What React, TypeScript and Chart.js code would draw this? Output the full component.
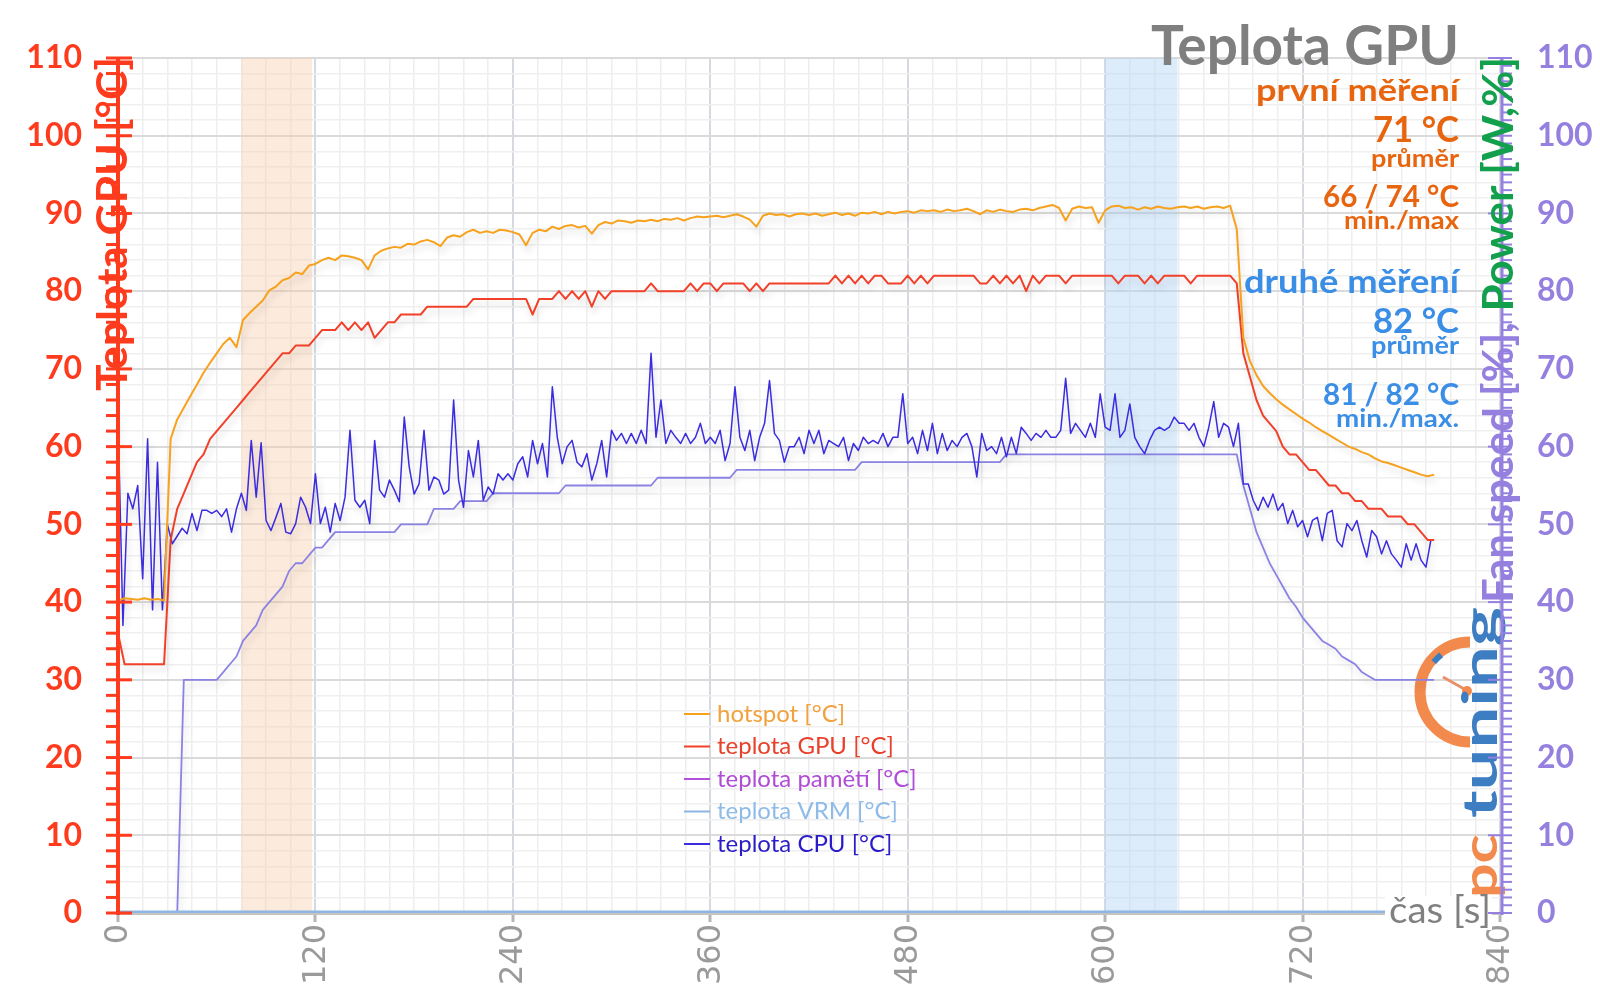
import React, { useEffect, useRef } from 'react';
import { Chart, registerables } from 'chart.js';

Chart.register(...registerables);

// ---------- data ----------
const X_MAX = 840;
const X_LABEL_STEP = 120;
const X_GRID_STEP = 15;
const Y_MAX = 110;
const Y_LABEL_STEP = 10;
const Y_GRID_STEP = 2;

const STEP_MAIN = 4; // seconds between samples (hotspot, GPU, fan)
const STEP_CPU = 3; // seconds between CPU samples

const hotspot = [
  40.2, 40.5, 40.4, 40.3, 40.5, 40.3, 40.4, 40.2, 61.0, 63.5,
  65.0, 66.5, 68.0, 69.5, 70.8, 72.0, 73.2, 74.0, 72.8, 76.3,
  77.2, 78.0, 78.8, 80.1, 80.6, 81.4, 81.7, 82.4, 82.2, 83.3,
  83.5, 84.0, 84.3, 84.0, 84.6, 84.5, 84.3, 84.0, 82.8, 84.6,
  85.2, 85.5, 85.7, 85.6, 86.1, 86.0, 86.4, 86.6, 86.3, 85.8,
  86.9, 87.2, 87.0, 87.6, 87.9, 87.5, 87.7, 87.5, 87.9, 87.8,
  87.6, 87.3, 85.9, 87.5, 87.9, 87.7, 88.3, 88.0, 88.4, 88.5,
  88.2, 88.4, 87.4, 88.5, 88.9, 88.7, 89.1, 89.0, 88.8, 89.1,
  89.0, 89.2, 89.0, 89.3, 89.2, 89.4, 89.1, 89.4, 89.6, 89.5,
  89.6, 89.7, 89.5, 89.7, 89.9, 89.6, 89.2, 88.3, 89.7, 90.0,
  89.8, 89.9, 89.6, 89.9, 90.0, 89.8, 90.0, 89.7, 89.9, 90.1,
  89.8, 90.0, 89.7, 90.1, 90.0, 90.2, 89.9, 90.2, 90.0, 90.2,
  90.3, 90.1, 90.4, 90.3, 90.4, 90.2, 90.5, 90.3, 90.4, 90.6,
  90.3, 89.9, 90.4, 90.2, 90.5, 90.3, 90.2, 90.5, 90.6, 90.4,
  90.7, 90.9, 91.1, 90.7, 89.1, 90.6, 90.9, 90.7, 90.8, 88.8,
  90.4, 90.9, 91.0, 90.7, 90.8, 90.5, 90.8, 90.6, 90.9, 90.7,
  90.6, 90.8, 90.9, 90.7, 90.9, 90.6, 90.8, 90.9, 90.7, 91.0,
  88.0, 74.0, 71.0, 69.2, 67.8, 66.9, 66.1, 65.4, 64.8, 64.2,
  63.6, 63.1, 62.5, 62.0, 61.5, 61.0, 60.5, 60.0, 59.7, 59.3,
  59.0, 58.5, 58.1, 57.9, 57.6, 57.3, 57.0, 56.7, 56.4, 56.2,
  56.4,
];

const gpuTemp = [
  36, 32, 32, 32, 32, 32, 32, 32, 48, 52,
  54, 56, 58, 59, 61, 62, 63, 64, 65, 66,
  67, 68, 69, 70, 71, 72, 72, 73, 73, 73,
  74, 75, 75, 75, 76, 75, 76, 75, 76, 74,
  75, 76, 76, 77, 77, 77, 77, 78, 78, 78,
  78, 78, 78, 78, 79, 79, 79, 79, 79, 79,
  79, 79, 79, 77, 79, 79, 79, 80, 79, 80,
  79, 80, 78, 80, 79, 80, 80, 80, 80, 80,
  80, 81, 80, 80, 80, 80, 80, 81, 80, 81,
  81, 80, 81, 81, 81, 81, 80, 81, 80, 81,
  81, 81, 81, 81, 81, 81, 81, 81, 81, 82,
  81, 82, 81, 82, 81, 82, 82, 81, 81, 81,
  82, 81, 82, 81, 82, 82, 82, 82, 82, 82,
  82, 81, 81, 82, 81, 82, 81, 82, 80, 82,
  81, 82, 82, 82, 81, 82, 82, 82, 82, 82,
  82, 82, 81, 82, 82, 82, 81, 82, 81, 82,
  82, 82, 82, 81, 82, 82, 82, 82, 82, 82,
  81, 72, 69, 66, 64, 63, 62, 60, 59, 59,
  58, 57, 57, 56, 55, 55, 54, 54, 53, 53,
  52, 52, 52, 51, 51, 51, 50, 50, 49, 48,
  48,
];

const fanSpeed = [
  0, 0, 0, 0, 0, 0, 0, 0, 0, 0,
  30, 30, 30, 30, 30, 30, 31, 32, 33, 35,
  36, 37, 39, 40, 41, 42, 44, 45, 45, 46,
  47, 47, 48, 49, 49, 49, 49, 49, 49, 49,
  49, 49, 49, 50, 50, 50, 50, 50, 52, 52,
  52, 52, 53, 53, 53, 53, 53, 54, 54, 54,
  54, 54, 54, 54, 54, 54, 54, 54, 55, 55,
  55, 55, 55, 55, 55, 55, 55, 55, 55, 55,
  55, 55, 56, 56, 56, 56, 56, 56, 56, 56,
  56, 56, 56, 56, 57, 57, 57, 57, 57, 57,
  57, 57, 57, 57, 57, 57, 57, 57, 57, 57,
  57, 57, 57, 58, 58, 58, 58, 58, 58, 58,
  58, 58, 58, 58, 58, 58, 58, 58, 58, 58,
  58, 58, 58, 58, 58, 59, 59, 59, 59, 59,
  59, 59, 59, 59, 59, 59, 59, 59, 59, 59,
  59, 59, 59, 59, 59, 59, 59, 59, 59, 59,
  59, 59, 59, 59, 59, 59, 59, 59, 59, 59,
  59, 55, 52, 49, 47, 45, 43.5, 42, 40.5, 39.4,
  38, 37, 36, 35, 34.5, 34, 33, 32.5, 32, 31,
  30.5, 30, 30, 30, 30, 30, 30, 30, 30, 30,
  30,
];

const cpuTemp = [
  64, 37, 54, 52, 55, 43, 61, 39, 58, 39,
  50, 47.5, 48.5, 49.5, 48.8, 51.4, 49.2, 51.8, 51.8, 51.4,
  51.8, 51.0, 52.0, 49.0, 52.0, 54.0, 51.8, 60.8, 53.5, 60.5,
  50.5, 49.2, 50.9, 52.7, 49.0, 48.8, 50.1, 53.5, 52.2, 50.1,
  56.5, 50.1, 52.2, 49.0, 52.7, 50.5, 53.5, 62.1, 53.1, 52.2,
  53.1, 50.1, 60.8, 54.4, 53.5, 55.7, 54.4, 52.9, 63.8, 57.4,
  53.9, 55.2, 62.1, 54.4, 56.1, 55.7, 53.9, 54.4, 66.0, 55.7,
  52.2, 59.5, 56.1, 60.8, 53.1, 54.8, 53.9, 56.5, 55.7, 56.5,
  55.7, 57.8, 58.7, 56.1, 60.8, 57.8, 60.4, 56.1, 67.7, 61.2,
  57.8, 60.0, 60.8, 58.0, 57.4, 59.1, 55.7, 57.8, 60.8, 56.1,
  62.1, 60.8, 61.7, 60.4, 61.7, 60.4, 62.1, 60.4, 72.0, 61.2,
  66.0, 60.4, 62.1, 61.2, 60.4, 61.7, 60.4, 61.2, 63.0, 60.4,
  61.2, 60.4, 62.1, 58.2, 60.4, 67.7, 61.2, 59.5, 62.1, 58.2,
  61.2, 63.0, 68.5, 61.7, 60.8, 58.0, 60.0, 60.0, 61.2, 59.1,
  62.1, 60.4, 62.1, 59.1, 60.8, 60.4, 60.0, 61.2, 58.2, 60.4,
  59.5, 61.2, 60.4, 60.8, 60.4, 61.7, 60.0, 61.2, 61.2, 66.8,
  60.4, 61.2, 59.1, 62.1, 59.5, 63.0, 59.1, 61.7, 59.5, 60.8,
  60.0, 61.2, 61.7, 60.0, 56.1, 61.7, 59.5, 60.0, 59.1, 61.2,
  58.7, 61.2, 59.1, 62.5, 61.7, 60.8, 61.7, 61.2, 62.1, 61.2,
  61.2, 62.1, 68.8, 61.7, 63.0, 62.1, 61.2, 63.0, 61.2, 66.8,
  62.5, 62.1, 66.8, 61.2, 62.1, 65.5, 61.2, 60.0, 59.1, 60.8,
  62.1, 62.5, 62.1, 62.5, 63.8, 63.0, 63.0, 62.1, 63.0, 61.2,
  60.0, 62.5, 65.8, 61.2, 63.0, 62.5, 60.0, 63.0, 55.2, 55.2,
  53.1, 51.8, 53.5, 52.2, 53.9, 51.8, 52.7, 50.1, 51.8, 49.7,
  50.5, 48.4, 50.5, 50.9, 47.9, 51.4, 51.8, 47.9, 47.1, 50.1,
  49.2, 50.5, 47.9, 45.8, 49.2, 48.4, 46.2, 47.9, 46.2, 45.4,
  44.5, 47.5, 45.4, 47.5, 45.4, 44.5, 48,
];

const flatTimes = [0, 800];
const memTemp = [0, 0];
const vrmTemp = [0, 0];

const FIRST_WINDOW = [75, 118];
const SECOND_WINDOW = [600, 644];

const SERIES_LABELS = ['hotspot [°C]', 'teplota GPU [°C]', 'teplota pamětí [°C]', 'teplota VRM [°C]', 'teplota CPU [°C]'];
const SERIES_COLORS = ['#F6A21E', '#F2412A', '#B64EDC', '#8DB6E3', '#3B2CE0'];
const LEGEND_TEXT_COLORS = ['#F2A23C', '#E8402A', '#B04CD6', '#8EBBE8', '#2A1CC8'];
const FAN_COLOR = '#8B83E3';

const TITLE = 'Teplota GPU';
const FIRST_TEXTS = ['první měření', '71 °C', 'průměr', '66 / 74 °C', 'min./max'];
const SECOND_TEXTS = ['druhé měření', '82 °C', 'průměr', '81 / 82 °C', 'min./max.'];
const LEFT_TITLE = 'Teplota GPU [°C]';
const RIGHT_TITLE_A = 'Fan speed [%], ';
const RIGHT_TITLE_B = 'Power [W,%]';
const X_TITLE = 'čas [s]';

// ---------- styles ----------
const RED = '#FF3B1E';
const PURPLE = '#9580E0';
const GREEN = '#12A04C';
const ORANGE_TXT = '#E8650F';
const BLUE_TXT = '#3B8EE5';
const FONT = 'Lato, "Noto Sans", sans-serif';

const toPoints = (vals: number[], step: number) => vals.map((v, i) => ({ x: i * step, y: v }));
const toPointsT = (times: number[], vals: number[]) => vals.map((v, i) => ({ x: times[i], y: v }));

function range(max: number, step: number) {
  const out: number[] = [];
  for (let v = 0; v <= max + 1e-9; v += step) out.push(v);
  return out;
}

function fitText(ctx: CanvasRenderingContext2D, text: string, x: number, y: number, size: number, weight: string, width: number | null, align: CanvasTextAlign) {
  ctx.font = `${weight} ${size}px ${FONT}`;
  const w = ctx.measureText(text).width;
  const sx = width ? width / w : 1;
  ctx.save();
  ctx.translate(x, y);
  ctx.scale(sx, 1);
  ctx.textAlign = align;
  ctx.textBaseline = 'alphabetic';
  ctx.fillText(text, 0, 0);
  ctx.restore();
}

function rotatedParts(ctx: CanvasRenderingContext2D, parts: { t: string; c: string }[], xBase: number, yStart: number, size: number, length: number) {
  ctx.save();
  ctx.font = `bold ${size}px ${FONT}`;
  const total = parts.reduce((s, p) => s + ctx.measureText(p.t).width, 0);
  ctx.translate(xBase, yStart);
  ctx.rotate(-Math.PI / 2);
  ctx.scale(length / total, 1);
  ctx.textAlign = 'left';
  ctx.textBaseline = 'alphabetic';
  let off = 0;
  for (const p of parts) {
    ctx.fillStyle = p.c;
    ctx.fillText(p.t, off, 0);
    off += ctx.measureText(p.t).width;
  }
  ctx.restore();
}

function line(ctx: CanvasRenderingContext2D, x1: number, y1: number, x2: number, y2: number) {
  ctx.beginPath();
  ctx.moveTo(x1, y1);
  ctx.lineTo(x2, y2);
  ctx.stroke();
}

const decorPlugin = {
  id: 'decor',
  beforeDatasetsDraw(chart: any) {
    const { ctx, chartArea: a, scales } = chart;
    const x = scales.x;
    ctx.save();
    ctx.fillStyle = 'rgba(247, 205, 172, 0.42)';
    let x1 = x.getPixelForValue(FIRST_WINDOW[0]);
    let x2 = x.getPixelForValue(FIRST_WINDOW[1]);
    ctx.fillRect(x1, a.top, x2 - x1, a.bottom - a.top);
    ctx.fillStyle = 'rgba(180, 212, 246, 0.45)';
    x1 = x.getPixelForValue(SECOND_WINDOW[0]);
    x2 = x.getPixelForValue(SECOND_WINDOW[1]);
    ctx.fillRect(x1, a.top, x2 - x1, a.bottom - a.top);

    // logo
    const cx = 1470, cy = 692;
    ctx.strokeStyle = '#F28A4E';
    ctx.lineWidth = 11;
    ctx.beginPath();
    ctx.arc(cx, cy, 50, Math.PI / 2, (3 * Math.PI) / 2, false);
    ctx.stroke();
    ctx.strokeStyle = '#3D7DC2';
    ctx.lineWidth = 6;
    ctx.beginPath();
    ctx.arc(cx, cy, 47, Math.PI * 1.22, Math.PI * 1.29, false);
    ctx.stroke();
    ctx.strokeStyle = '#E9906A';
    ctx.lineWidth = 3;
    line(ctx, cx - 4, cy - 2, cx - 27, cy - 15);
    ctx.fillStyle = '#F28A4E';
    ctx.beginPath();
    ctx.arc(cx - 3, cy - 1, 5, 0, Math.PI * 2);
    ctx.fill();
    rotatedParts(ctx, [{ t: 'pc', c: '#F28A4E' }], 1497, 898, 47, 64);
    rotatedParts(ctx, [{ t: 'tuning', c: '#3D7DC2' }], 1497, 818, 47, 211);
    ctx.restore();
  },
  beforeDatasetDraw(chart: any) {
    const ctx = chart.ctx;
    ctx.save();
    ctx.shadowColor = 'rgba(0,0,0,0.16)';
    ctx.shadowBlur = 7;
    ctx.shadowOffsetX = 2;
    ctx.shadowOffsetY = 5;
  },
  afterDatasetDraw(chart: any) {
    chart.ctx.restore();
  },
  afterDraw(chart: any) {
    const { ctx, chartArea: a, scales } = chart;
    const y = scales.y;
    const x = scales.x;
    ctx.save();

    // x tick labels (rotated, reading upward, ending just under the tick marks)
    ctx.fillStyle = '#9A9A9A';
    ctx.font = 'normal 32px "DejaVu Sans", sans-serif';
    for (const v of range(X_MAX, X_LABEL_STEP)) {
      ctx.save();
      ctx.translate(x.getPixelForValue(v), a.bottom + 11);
      ctx.rotate(-Math.PI / 2);
      ctx.textAlign = 'right';
      ctx.textBaseline = 'middle';
      ctx.fillText(String(v), 0, 1);
      ctx.restore();
    }

    // x title with white background
    ctx.fillStyle = '#ffffff';
    ctx.fillRect(1385, 896, 107, 34);
    ctx.fillStyle = '#808080';
    fitText(ctx, X_TITLE, 1389, 923, 36, 'normal', 102, 'left');

    // left axis
    ctx.strokeStyle = RED;
    ctx.lineWidth = 4;
    line(ctx, a.left, a.top - 1, a.left, a.bottom + 2);
    ctx.lineWidth = 3;
    for (const v of range(Y_MAX, Y_GRID_STEP)) {
      const py = y.getPixelForValue(v);
      const major = v % Y_LABEL_STEP === 0;
      line(ctx, a.left - 12, py, major ? a.left + 14 : a.left + 1, py);
    }

    // right axis
    const rx = a.right + 2;
    ctx.strokeStyle = PURPLE;
    ctx.lineWidth = 3;
    line(ctx, rx, a.top - 1, rx, a.bottom + 2);
    ctx.lineWidth = 2;
    for (const v of range(Y_MAX, 1)) {
      const py = y.getPixelForValue(v);
      const major = v % Y_LABEL_STEP === 0;
      line(ctx, major ? rx - 14 : rx, py, rx + 10, py);
    }

    // axis titles
    rotatedParts(ctx, [{ t: LEFT_TITLE, c: RED }], 127, 391, 42, 334);
    rotatedParts(ctx, [{ t: RIGHT_TITLE_A, c: PURPLE }, { t: RIGHT_TITLE_B, c: GREEN }], 1513, 603, 42, 546);

    // title + annotations
    const R = 1459;
    ctx.fillStyle = '#7F7F7F';
    fitText(ctx, TITLE, R, 65, 55, 'bold', 308, 'right');
    ctx.fillStyle = ORANGE_TXT;
    fitText(ctx, FIRST_TEXTS[0], R, 101, 30, 'bold', 203, 'right');
    fitText(ctx, FIRST_TEXTS[1], R, 142, 37, 'bold', 86, 'right');
    fitText(ctx, FIRST_TEXTS[2], R, 167, 25, 'bold', 88, 'right');
    fitText(ctx, FIRST_TEXTS[3], R, 207, 31, 'bold', 136, 'right');
    fitText(ctx, FIRST_TEXTS[4], R, 229, 25, 'bold', 115, 'right');
    ctx.fillStyle = BLUE_TXT;
    fitText(ctx, SECOND_TEXTS[0], R, 293, 32, 'bold', 215, 'right');
    fitText(ctx, SECOND_TEXTS[1], R, 333, 35, 'bold', 86, 'right');
    fitText(ctx, SECOND_TEXTS[2], R, 354, 25, 'bold', 88, 'right');
    fitText(ctx, SECOND_TEXTS[3], R, 405, 31, 'bold', 136, 'right');
    fitText(ctx, SECOND_TEXTS[4], R, 427, 25, 'bold', 123, 'right');

    // legend
    const rows = [714, 746.5, 779, 811.5, 844];
    SERIES_LABELS.forEach((lab, i) => {
      ctx.strokeStyle = SERIES_COLORS[i];
      ctx.lineWidth = 2;
      line(ctx, 684, rows[i], 710, rows[i]);
      ctx.fillStyle = LEGEND_TEXT_COLORS[i];
      ctx.font = `normal 24px ${FONT}`;
      ctx.textAlign = 'left';
      ctx.textBaseline = 'middle';
      ctx.fillText(lab, 717, rows[i]);
    });
    ctx.restore();
  },
};

export default function App() {
  const ref = useRef<HTMLCanvasElement>(null);

  useEffect(() => {
    const canvas = ref.current;
    if (!canvas) return;

    const xTicks = range(X_MAX, X_GRID_STEP);
    const yTicks = range(Y_MAX, Y_GRID_STEP);

    const chart = new Chart(canvas, {
      type: 'line',
      data: {
        datasets: [
          { label: SERIES_LABELS[0], data: toPoints(hotspot, STEP_MAIN), borderColor: SERIES_COLORS[0], borderWidth: 2, order: 1 },
          { label: SERIES_LABELS[1], data: toPoints(gpuTemp, STEP_MAIN), borderColor: SERIES_COLORS[1], borderWidth: 2, order: 2 },
          { label: SERIES_LABELS[2], data: toPointsT(flatTimes, memTemp), borderColor: SERIES_COLORS[2], borderWidth: 2, order: 5 },
          { label: SERIES_LABELS[3], data: toPointsT(flatTimes, vrmTemp), borderColor: SERIES_COLORS[3], borderWidth: 5, order: 4 },
          { label: SERIES_LABELS[4], data: toPoints(cpuTemp, STEP_CPU), borderColor: SERIES_COLORS[4], borderWidth: 1.5, order: 3 },
          { label: 'Fan speed [%]', data: toPoints(fanSpeed, STEP_MAIN), borderColor: FAN_COLOR, borderWidth: 1.8, order: 6, yAxisID: 'y2' },
        ] as any,
      },
      options: {
        animation: false,
        responsive: false,
        devicePixelRatio: 1,
        events: [],
        layout: { padding: { top: 58, left: 0, right: 0, bottom: 0 } },
        elements: {
          point: { radius: 0 },
          line: { tension: 0, borderJoinStyle: 'round', fill: false },
        },
        plugins: {
          legend: { display: false },
          tooltip: { enabled: false },
          title: { display: false },
        },
        scales: {
          x: {
            type: 'linear',
            min: 0,
            max: X_MAX,
            afterBuildTicks: (s: any) => { s.ticks = xTicks.map((v) => ({ value: v })); },
            afterFit: (s: any) => { s.height = 95; },
            ticks: { display: false, autoSkip: false },
            grid: {
              color: (c: any) => (c.tick && c.tick.value % X_LABEL_STEP === 0 ? '#D5D9E0' : '#EEEEEE'),
              lineWidth: (c: any) => (c.tick && c.tick.value % X_LABEL_STEP === 0 ? 2 : 1.5),
              tickColor: (c: any) => (c.tick && c.tick.value % X_LABEL_STEP === 0 ? '#B5B5B5' : 'rgba(0,0,0,0)'),
              tickLength: 9,
              tickWidth: 3,
            },
            border: { display: true, color: '#C4C4C4', width: 3 },
          },
          y: {
            type: 'linear',
            position: 'left',
            min: 0,
            max: Y_MAX,
            afterBuildTicks: (s: any) => { s.ticks = yTicks.map((v) => ({ value: v })); },
            afterFit: (s: any) => { s.width = 118; },
            ticks: {
              autoSkip: false,
              padding: 36,
              color: RED,
              font: { family: FONT, size: 32, weight: 'bold' },
              callback: (v: any) => (Number(v) % Y_LABEL_STEP === 0 ? String(v) : ''),
            },
            grid: {
              drawTicks: false,
              color: (c: any) => (c.tick && c.tick.value % Y_LABEL_STEP === 0 ? '#DADADA' : '#EFEFEF'),
              lineWidth: (c: any) => (c.tick && c.tick.value % Y_LABEL_STEP === 0 ? 2 : 1.5),
            },
            border: { display: false },
          },
          y2: {
            type: 'linear',
            position: 'right',
            min: 0,
            max: Y_MAX,
            afterBuildTicks: (s: any) => { s.ticks = yTicks.map((v) => ({ value: v })); },
            afterFit: (s: any) => { s.width = 100; },
            ticks: {
              autoSkip: false,
              padding: 37,
              color: PURPLE,
              font: { family: FONT, size: 32, weight: 'bold' },
              callback: (v: any) => (Number(v) % Y_LABEL_STEP === 0 ? String(v) : ''),
            },
            grid: { drawOnChartArea: false, drawTicks: false },
            border: { display: false },
          },
        },
      } as any,
      plugins: [decorPlugin],
    });

    return () => chart.destroy();
  }, []);

  return (
    <div style={{ position: 'absolute', left: 0, top: 0, width: 1600, height: 1008, background: '#ffffff' }}>
      <canvas ref={ref} width={1600} height={1008} style={{ display: 'block', width: 1600, height: 1008 }} />
    </div>
  );
}
